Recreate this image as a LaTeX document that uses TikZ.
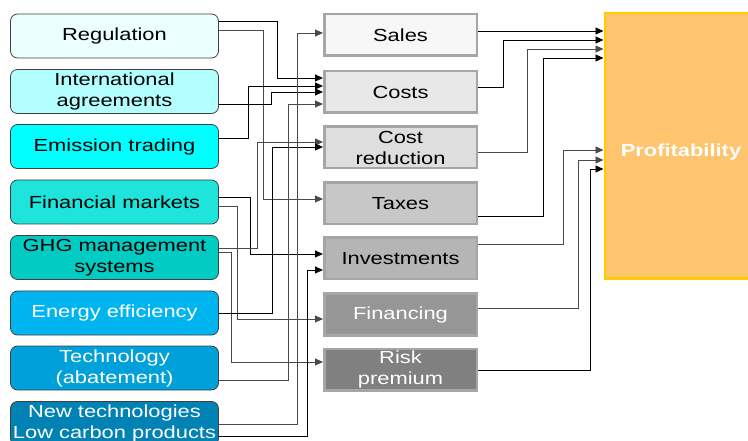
\documentclass[tikz,border=0pt]{standalone}
\usepackage{fontspec}
\setmainfont[FakeStretch=1.25]{Liberation Sans}
\usetikzlibrary{arrows.meta}

\definecolor{cReg}{HTML}{EBFFFF}
\definecolor{cIntl}{HTML}{B3FFFF}
\definecolor{cEmis}{HTML}{00FFFF}
\definecolor{cFin}{HTML}{1EE4DC}
\definecolor{cGhg}{HTML}{00CCC4}
\definecolor{cEner}{HTML}{00B4F0}
\definecolor{cTech}{HTML}{00A0DA}
\definecolor{cNewt}{HTML}{0082B4}
\definecolor{boxgray}{HTML}{A6A6A6}
\definecolor{linegray}{HTML}{4A4A4A}
\definecolor{profFill}{HTML}{FFC46E}
\definecolor{profEdge}{HTML}{FFCC00}

\begin{document}
\begin{tikzpicture}[
    x=1pt, y=-1pt,
    >={Triangle[length=8pt,width=7pt]},
    driver/.style={rectangle, rounded corners=7pt, draw=black!75, line width=0.8pt,
        minimum width=208pt, minimum height=44pt, inner sep=0pt, align=center,
        font=\fontsize{17.5}{21}\selectfont},
    factor/.style={rectangle, draw=boxgray, line width=2.5pt,
        minimum width=152.5pt, minimum height=41.5pt, inner sep=0pt, align=center,
        font=\fontsize{17.5}{21}\selectfont},
    link/.style={->, line width=0.9pt, draw=black},
    glink/.style={link, draw=linegray}
]
\useasboundingbox (0,0) rectangle (748,441);
\clip (0,0) rectangle (748,441);

% Drivers
\node[driver, fill=cReg] (reg) at (114.5,36) {Regulation};
\node[driver, fill=cIntl] (intl) at (114.5,91.5) {International\\agreements};
\node[driver, fill=cEmis] (emis) at (114.5,146.5) {Emission trading};
\node[driver, fill=cFin] (fin) at (114.5,202) {Financial markets};
\node[driver, fill=cGhg] (ghg) at (114.5,257.5) {GHG management\\systems};
\node[driver, fill=cEner, text=white] (ener) at (114.5,313) {Energy efficiency};
\node[driver, fill=cTech, text=white] (tech) at (114.5,368) {Technology\\(abatement)};
\node[driver, fill=cNewt, text=white] (newt) at (114.5,423.5) {New technologies\\Low carbon products};

% Value factors
\node[factor, fill=black!3] (sales) at (400.5,35) {Sales};
\node[factor, fill=black!9] (costs) at (400.5,92) {Costs};
\node[factor, fill=black!13] (cred) at (400.5,147.5) {Cost\\reduction};
\node[factor, fill=black!22] (taxes) at (400.5,203.5) {Taxes};
\node[factor, fill=black!29] (inv) at (400.5,258.5) {Investments};
\node[factor, fill=black!41, text=white] (fnc) at (400.5,314.5) {Financing};
\node[factor, fill=black!50, text=white] (risk) at (400.5,369.5) {Risk\\premium};

% Result
\node[rectangle, draw=profEdge, fill=profFill, line width=2.5pt, minimum width=152.5pt,
    minimum height=265.5pt, inner sep=0pt, text=white,
    font=\fontsize{17.5}{21}\selectfont\bfseries] (prof) at (681,146) {\raisebox{-11pt}[0pt][0pt]{Profitability}};

% Drivers to factors
\draw[link] ([yshift=15pt]reg.east) -- ++(59,0) |- ([yshift=14pt]costs.west);
\draw[glink] ([yshift=6pt]reg.east) -- ++(45,0) |- ([yshift=4.5pt]taxes.west);
\draw[link] ([yshift=-12.5pt]intl.east) -- ++(53,0) |- ([yshift=0pt]costs.west);
\draw[link] ([yshift=8.5pt]emis.east) -- ++(30,0) |- ([yshift=6pt]costs.west);
\draw[link] ([yshift=5pt]fin.east) -- ++(32,0) |- ([yshift=4.5pt]inv.west);
\draw[glink] ([yshift=-4pt]fin.east) -- ++(19,0) |- ([yshift=-4.5pt]fnc.west);
\draw[glink] ([yshift=9.5pt]ghg.east) -- ++(39,0) |- ([yshift=5.5pt]cred.west);
\draw[glink] ([yshift=5.5pt]ghg.east) -- ++(13,0) |- ([yshift=7.5pt]risk.west);
\draw[link] ([yshift=0pt]ener.east) -- ++(54,0) |- ([yshift=0.5pt]cred.west);
\draw[glink] ([yshift=-12pt]tech.east) -- ++(70,0) |- ([yshift=-12pt]costs.west);
\draw[glink] ([yshift=-0.5pt]newt.east) -- ++(79,0) |- ([yshift=2pt]sales.west);
\draw[link] ([yshift=-12.5pt]newt.east) -- ++(89,0) |- ([yshift=-11.5pt]inv.west);

% Factors to profitability
\draw[link] ([yshift=4pt]sales.east) -- ([yshift=4pt]sales.east -| prof.west);
\draw[link] ([yshift=5pt]costs.east) -- ++(25,0) |- ([yshift=106pt]prof.west);
\draw[glink] ([yshift=-4.5pt]cred.east) -- ++(49,0) |- ([yshift=97pt]prof.west);
\draw[link] ([yshift=-12.5pt]taxes.east) -- ++(65,0) |- ([yshift=88pt]prof.west);
\draw[glink] ([yshift=14.5pt]inv.east) -- ++(85,0) |- ([yshift=-4pt]prof.west);
\draw[glink] ([yshift=6.5pt]fnc.east) -- ++(100,0) |- ([yshift=-14pt]prof.west);
\draw[link] ([yshift=-0.5pt]risk.east) -- ++(112,0) |- ([yshift=-23pt]prof.west);

\end{tikzpicture}
\end{document}
